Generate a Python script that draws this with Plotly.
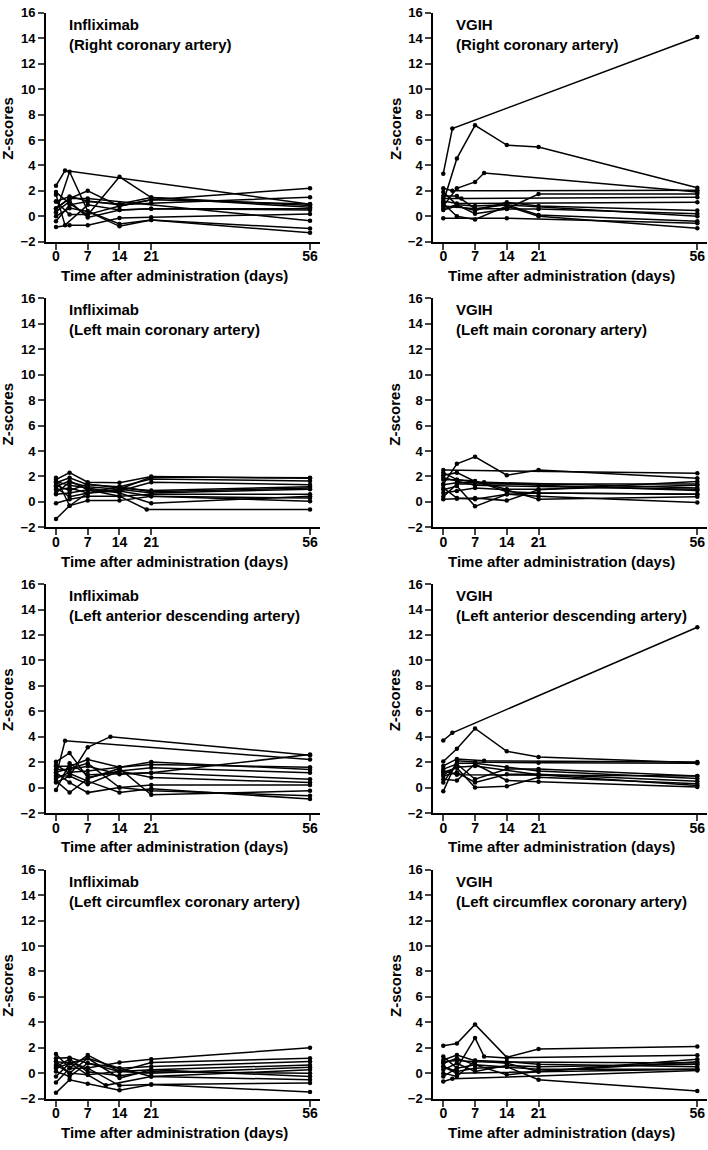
import plotly.graph_objects as go

# ---- data: one inner list per patient (days after administration, z-score) ----
ifx_rca_days = [[0, 2, 56], [0, 3, 7, 14, 21, 56], [0, 3, 7, 14, 21, 56], [0, 3, 7, 14, 21, 56],
                [0, 3, 7, 14, 21, 56], [0, 3, 7, 14, 21, 56], [0, 2, 7, 14, 21, 56], [0, 3, 7, 14, 21, 56],
                [0, 3, 7, 14, 21, 56], [0, 3, 7, 14, 21, 56], [0, 3, 7, 14, 21, 56], [0, 3, 7, 56]]
ifx_rca_z = [[2.4, 3.6, 0.95], [0.3, 3.5, 0.4, -0.6, -0.3, -0.97], [1.9, 1.0, 0.1, 3.1, 1.47, 0.7],
             [0.6, 1.4, 2.0, 0.8, 1.3, 2.2], [1.16, 1.55, 1.2, 0.9, 1.03, 1.5], [-0.85, -0.7, -0.7, -0.13, -0.08, 0.18],
             [1.7, -0.7, 0.9, 0.5, 0.6, 0.6], [0.0, 0.64, 0.38, -0.79, -0.3, -1.3], [-0.39, 0.9, 1.16, 0.96, 1.47, 0.85],
             [0.34, 1.16, -0.1, 0.5, 0.6, 0.5], [1.16, 0.13, 0.13, 0.8, 1.3, 0.96], [0.64, 1.4, 1.4, -0.35]]

vgih_rca_days = [[0, 2, 56], [0, 3, 7, 14, 21, 56], [0, 3, 7, 9, 56], [0, 2, 56], [0, 14, 56],
                 [0, 3, 7, 14, 21, 56], [0, 4, 56], [0, 3, 7, 14, 21, 56], [0, 3, 7, 14, 21, 56],
                 [0, 3, 7, 14, 21, 56], [0, 3, 7, 14, 21, 56], [0, 3, 56], [0, 7, 14, 56]]
vgih_rca_z = [[3.35, 6.9, 14.1], [1.1, 4.55, 7.15, 5.6, 5.45, 2.25], [0.8, 2.2, 2.7, 3.4, 1.9],
              [2.2, 2.0, 2.05], [-0.15, -0.15, -0.55], [1.6, 1.6, 0.6, 0.6, 1.75, 1.75], [1.4, 1.4, 1.5],
              [1.0, 0.0, -0.25, 0.8, 0.0, -0.95], [0.5, 0.8, 0.45, 1.1, 0.8, 0.45], [1.9, 0.9, 0.2, 0.57, 0.57, 0.2],
              [0.6, 0.9, 0.8, 0.9, 0.1, -0.4], [1.2, 1.0, 1.1], [0.8, 0.6, 0.9, 0.0]]

ifx_lmca_days = [[0, 3, 7, 14, 21, 56]] * 4 + [[0, 3, 7, 14, 20, 56]] + [[0, 3, 7, 14, 21, 56]] * 7
ifx_lmca_z = [[1.75, 2.3, 1.55, 1.5, 2.0, 1.85], [1.5, 1.9, 1.35, 1.2, 1.8, 1.65], [1.2, 1.65, 0.95, 0.85, 1.55, 1.35],
              [0.95, 1.1, 0.7, 1.2, 0.8, 1.1], [0.6, 0.7, 0.95, 0.45, -0.6, -0.6], [-0.1, 0.2, 0.45, 0.45, 0.6, 0.6],
              [-1.35, -0.3, 0.7, 0.85, 0.45, 0.3], [1.9, -0.3, 0.1, 0.1, 0.45, 0.05], [1.6, 1.3, 1.1, 0.7, -0.1, 0.45],
              [0.7, 1.55, 1.2, 1.0, 1.95, 1.9], [1.1, 0.4, 0.7, 1.0, 0.7, 1.0], [1.3, 0.9, 1.4, 1.1, 0.9, 1.2]]

vgih_lmca_days = [[0, 3, 7, 14, 21, 56], [0, 56], [0, 3, 7, 14, 21, 56], [0, 3, 7, 14, 21, 56], [0, 3, 9, 56],
                  [0, 3, 7, 14, 21, 56], [0, 3, 7, 14, 21, 56], [0, 3, 7, 14, 21, 56], [0, 3, 7, 21, 56],
                  [0, 3, 7, 14, 21, 56], [0, 3, 56], [0, 7, 56]]
vgih_lmca_z = [[1.4, 3.0, 3.55, 2.1, 2.5, 1.85], [2.5, 2.25], [2.1, 2.3, 1.6, 1.0, 1.0, 1.3],
               [1.75, 1.75, 1.65, 0.8, 0.7, 0.6], [1.35, 1.5, 1.55, 1.1], [0.95, 1.25, -0.35, 0.6, 0.45, -0.05],
               [0.2, 0.25, 0.3, 0.1, 0.95, 1.6], [0.7, 0.85, 1.1, 0.95, 0.2, 0.4], [2.3, 1.75, 1.55, 1.3, 0.9],
               [1.1, 0.3, 0.2, 0.6, 0.7, 0.6], [0.4, 1.4, 1.4], [1.9, 1.3, 1.0]]

ifx_lad_days = [[0, 2, 56], [0, 3, 7, 12, 56]] + [[0, 3, 7, 14, 21, 56]] * 10
ifx_lad_z = [[0.9, 3.68, 2.2], [0.4, 0.9, 3.16, 4.0, 2.54], [2.02, 2.72, 0.78, 1.3, 1.55, 1.17],
             [1.68, 1.68, 2.2, 1.6, 1.81, 1.6], [1.42, 1.42, 1.68, 1.04, 1.17, 2.6], [1.17, 0.39, -0.4, 0.0, -0.26, -0.65],
             [0.91, 0.91, 0.26, 1.3, 0.78, 0.39], [0.52, -0.39, 0.7, 1.5, -0.57, -0.26], [1.2, 1.5, 1.9, 0.0, 0.2, 0.2],
             [0.7, 1.2, 1.3, 1.6, 2.0, 1.42], [1.8, 1.1, 0.5, -0.39, -0.1, -0.9], [-0.2, 1.9, 1.0, 1.1, 1.17, 0.65]]

vgih_lad_days = [[0, 2, 56], [0, 3, 7, 14, 21, 56], [0, 3, 9, 56], [0, 3, 7, 21, 56], [0, 3, 7, 14, 21, 56],
                 [0, 3, 7, 14, 21, 56], [0, 3, 7, 14, 21, 56], [0, 3, 7, 14, 21, 56], [0, 3, 7, 14, 21, 56],
                 [0, 3, 7, 21, 56], [0, 3, 56]]
vgih_lad_z = [[3.7, 4.3, 12.6], [2.05, 3.05, 4.65, 2.85, 2.4, 1.95], [1.7, 2.25, 2.1, 2.0], [-0.3, 2.1, 2.0, 1.95, 1.9],
              [1.45, 1.85, 0.65, 1.45, 1.45, 0.9], [1.2, 1.55, 0.0, 0.1, 0.8, 0.3], [0.9, 1.2, 0.4, 1.05, 1.05, 0.5],
              [0.65, 0.55, 1.85, 0.55, 0.45, 0.05], [0.4, 1.9, 1.9, 1.6, 1.3, 0.7], [1.0, 1.6, 1.7, 1.0, 0.15],
              [1.3, 1.0, 0.9]]

ifx_lcx_days = [[0, 3, 7, 14, 21, 56]] * 4 + [[0, 3, 7, 11, 21, 56]] + [[0, 3, 7, 14, 21, 56]] * 6
ifx_lcx_z = [[0.9, 0.8, 0.4, 0.83, 1.09, 2.0], [1.5, 0.4, 1.42, 0.13, 0.83, 1.17], [1.17, 1.22, 0.78, 0.39, 0.52, 0.91],
             [0.65, 0.0, 1.17, -0.39, 0.26, 0.65], [0.39, 0.78, -0.13, -0.96, -0.26, -0.52],
             [-1.55, -0.52, -0.83, -1.35, -0.9, -1.48], [-0.73, 0.39, 0.39, -0.98, -0.9, -0.78],
             [0.13, -0.26, 0.78, 0.13, 0.0, 0.47], [-0.26, 0.78, 1.17, 0.39, -0.26, 0.26],
             [0.91, 0.0, -0.13, 0.13, 0.26, -0.26], [0.5, 1.1, 0.1, -0.2, 0.1, 0.0]]

vgih_lcx_days = [[0, 3, 7, 14, 21, 56], [0, 3, 7, 9, 14, 56], [0, 3, 7, 14, 21, 56], [0, 3, 7, 14, 21, 56],
                 [0, 3, 7, 14, 21, 56], [0, 2, 56], [0, 3, 7, 14, 21, 56], [0, 3, 7, 14, 21, 56],
                 [0, 3, 7, 14, 21, 56], [0, 3, 7, 56], [0, 3, 56]]
vgih_lcx_z = [[2.15, 2.33, 3.83, 1.24, 1.89, 2.1], [1.3, 0.4, 2.77, 1.3, 1.2, 1.4], [1.04, 1.42, 0.98, 0.78, 0.13, 1.1],
              [0.78, 1.17, 0.65, -0.13, 0.13, 0.9], [0.52, 0.13, 0.39, 0.5, -0.52, -1.4], [-0.65, -0.45, 0.2],
              [0.26, 0.78, 0.13, 0.6, 0.5, 0.7], [0.0, -0.26, 1.0, 0.9, 0.7, 0.5], [-0.26, 0.39, 0.65, 0.5, 0.3, 0.3],
              [0.9, 1.0, 0.9, 0.8], [0.5, 0.0, 0.3]]

groups = ["Infliximab", "VGIH"]
arteries = ["Right coronary artery", "Left main coronary artery",
            "Left anterior descending artery", "Left circumflex coronary artery"]
x_ticks = [0, 7, 14, 21, 56]
y_ticks = list(range(-2, 17, 2))

panels = [
    [(ifx_rca_days, ifx_rca_z), (vgih_rca_days, vgih_rca_z)],
    [(ifx_lmca_days, ifx_lmca_z), (vgih_lmca_days, vgih_lmca_z)],
    [(ifx_lad_days, ifx_lad_z), (vgih_lad_days, vgih_lad_z)],
    [(ifx_lcx_days, ifx_lcx_z), (vgih_lcx_days, vgih_lcx_z)],
]

W, H = 708, 1150
FONT = "Liberation Sans, Arial, sans-serif"
col_x0 = [46, 433.3]          # pixel left edge of each column's plot area
plot_w = 274
row_step = 289.4
top0, bot0 = 5.9, 237.8       # pixel top / bottom of first row's plot area

fig = go.Figure()
layout = {}
annotations = []
n = 0
for r in range(4):
    for c in range(2):
        n += 1
        xa = "x" if n == 1 else f"x{n}"
        ya = "y" if n == 1 else f"y{n}"
        days_list, z_list = panels[r][c]
        for d, z in zip(days_list, z_list):
            fig.add_trace(go.Scatter(x=d, y=z, xaxis=xa, yaxis=ya, mode="lines+markers",
                                     line=dict(color="black", width=1.5),
                                     marker=dict(color="black", size=4.5),
                                     showlegend=False, hoverinfo="skip"))
        top = top0 + r * row_step
        bot = bot0 + r * row_step
        x0 = col_x0[c]
        layout["xaxis" if n == 1 else f"xaxis{n}"] = dict(
            domain=[x0 / W, (x0 + plot_w) / W], range=[-2.2, 58.2], anchor=ya,
            tickvals=x_ticks, ticks="outside", ticklen=6, tickwidth=2, ticklabelstandoff=-5,
            showline=True, linewidth=2, linecolor="black", showgrid=False, zeroline=False,
            tickfont=dict(family=FONT, size=14, color="black", weight="bold"))
        layout["yaxis" if n == 1 else f"yaxis{n}"] = dict(
            domain=[1 - bot / H, 1 - top / H], range=[-2, 16], anchor=xa,
            tickvals=y_ticks, ticks="outside", ticklen=6, tickwidth=2,
            showline=True, linewidth=2, linecolor="black", showgrid=False, zeroline=False,
            tickfont=dict(family=FONT, size=13, color="black", weight="bold"))
        # panel title
        annotations.append(dict(
            text=f"<b>{groups[c]}</b><br><b>({arteries[r]})</b>", xref="paper", yref="paper",
            x=(x0 + 21) / W, y=1 - (top + 1) / H, xanchor="left", yanchor="top", align="left",
            showarrow=False, font=dict(family=FONT, size=15, color="black")))
        # axis titles
        annotations.append(dict(
            text="<b>Time after administration (days)</b>", xref="paper", yref="paper",
            x=(x0 + 6 + 122) / W, y=1 - (bot + 34.5) / H, xanchor="center", yanchor="middle",
            showarrow=False, font=dict(family=FONT, size=15, color="black")))
        annotations.append(dict(
            text="<b>Z-scores</b>", xref="paper", yref="paper", textangle=-90,
            x=(x0 - 38.5) / W, y=1 - (top + 117) / H, xanchor="center", yanchor="middle",
            showarrow=False, font=dict(family=FONT, size=15, color="black")))

fig.update_layout(**layout)
fig.update_layout(width=W, height=H, margin=dict(l=0, r=0, t=0, b=0),
                  paper_bgcolor="white", plot_bgcolor="white",
                  annotations=annotations, showlegend=False)
# the page's default 8px body margin would push the fixed-size figure off the window
fig.write_html("out.html", config={"displayModeBar": False},
               post_script="document.body.style.margin='0';")
